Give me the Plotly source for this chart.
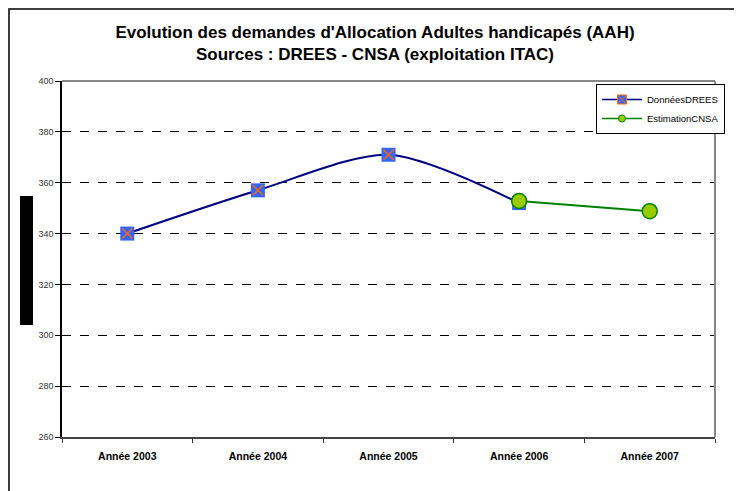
import plotly.graph_objects as go

annees = ["Année 2003", "Année 2004", "Année 2005", "Année 2006", "Année 2007"]
drees = [340, 357, 371, 352, None]
cnsa = [None, None, None, 352.8, 348.8]
y_ticks = [260, 280, 300, 320, 340, 360, 380, 400]

FONT = "Liberation Sans, Arial, sans-serif"

fig = go.Figure()

fig.add_trace(go.Scatter(
    x=annees, y=drees, name="DonnéesDREES", mode="lines+markers",
    line=dict(color="#000080", width=2, shape="spline", smoothing=0.8),
    marker=dict(symbol="square", size=14, color="#3366FF", line=dict(width=0)),
    showlegend=False))
fig.add_trace(go.Scatter(
    x=annees, y=drees, mode="markers", showlegend=False,
    marker=dict(symbol="x-thin", size=10, line=dict(color="#FF6600", width=1.5)),
    hoverinfo="skip"))
fig.add_trace(go.Scatter(
    x=annees, y=cnsa, name="EstimationCNSA", mode="lines+markers",
    line=dict(color="#008000", width=2),
    marker=dict(symbol="circle", size=15, color="#99CC00",
                line=dict(color="#008000", width=1.5)),
    showlegend=False))

# legend-only entries with smaller symbols, as in the original
fig.add_trace(go.Scatter(
    x=[None], y=[None], name="DonnéesDREES", mode="lines+markers",
    line=dict(color="#000080", width=1.5),
    marker=dict(symbol="square-x", size=9, color="#3366FF",
                line=dict(color="#FF6600", width=1))))
fig.add_trace(go.Scatter(
    x=[None], y=[None], name="EstimationCNSA", mode="lines+markers",
    line=dict(color="#008000", width=1.5),
    marker=dict(symbol="circle", size=7, color="#99CC00",
                line=dict(color="#008000", width=1))))

# the page body adds an 8px offset, so the figure is 8px smaller
fig.update_layout(
    width=734, height=483,
    margin=dict(l=54, r=27, t=73, b=54),
    paper_bgcolor="white", plot_bgcolor="white",
    font=dict(family=FONT, color="black"),
    title=dict(
        text="Evolution des demandes d'Allocation Adultes handicapés (AAH)<br>Sources : DREES - CNSA (exploitation ITAC)",
        x=0.5, xanchor="center", y=0.938, yanchor="top",
        font=dict(family=FONT, size=17, color="black", weight="bold")),
    legend=dict(x=1.0153, xanchor="right", y=0.9916, yanchor="top",
                bgcolor="white", bordercolor="black", borderwidth=1,
                font=dict(family=FONT, size=9.5), tracegroupgap=0,
                itemwidth=40),
    showlegend=True,
)

fig.update_xaxes(
    type="category", categoryorder="array", categoryarray=annees,
    range=[-0.5, 4.5],
    tickson="boundaries", ticks="outside", ticklen=4, tickcolor="#333",
    ticklabelstandoff=8,
    showline=True, linecolor="#444", linewidth=2, showgrid=False,
    tickfont=dict(family=FONT, size=10.5, weight="bold", color="black"))

fig.update_yaxes(
    range=[260, 400], tickvals=y_ticks, ticks="outside", ticklen=5,
    tickcolor="black", showline=True, linecolor="black", linewidth=1.5,
    showgrid=True, gridcolor="black", griddash="dash", gridwidth=1,
    zeroline=False, tickfont=dict(family=FONT, size=9, color="#333"))

# top and right frame of the plot area
fig.add_shape(type="line", xref="paper", yref="paper", x0=0, x1=1, y0=1, y1=1,
              line=dict(color="#888", width=2))
fig.add_shape(type="line", xref="paper", yref="paper", x0=1, x1=1, y0=0, y1=1,
              line=dict(color="#888", width=2))
# outer chart border
fig.add_shape(type="rect", xref="paper", yref="paper",
              x0=-0.0812, x1=1.0352, y0=-0.17, y1=1.2022,
              line=dict(color="black", width=1.5))
# black bar masking the y axis title
fig.add_shape(type="rect", xref="paper", yref="paper",
              x0=-0.0643, x1=-0.0444, y0=0.3146, y1=0.677,
              fillcolor="black", line=dict(width=0))

fig.write_html("out.html")
